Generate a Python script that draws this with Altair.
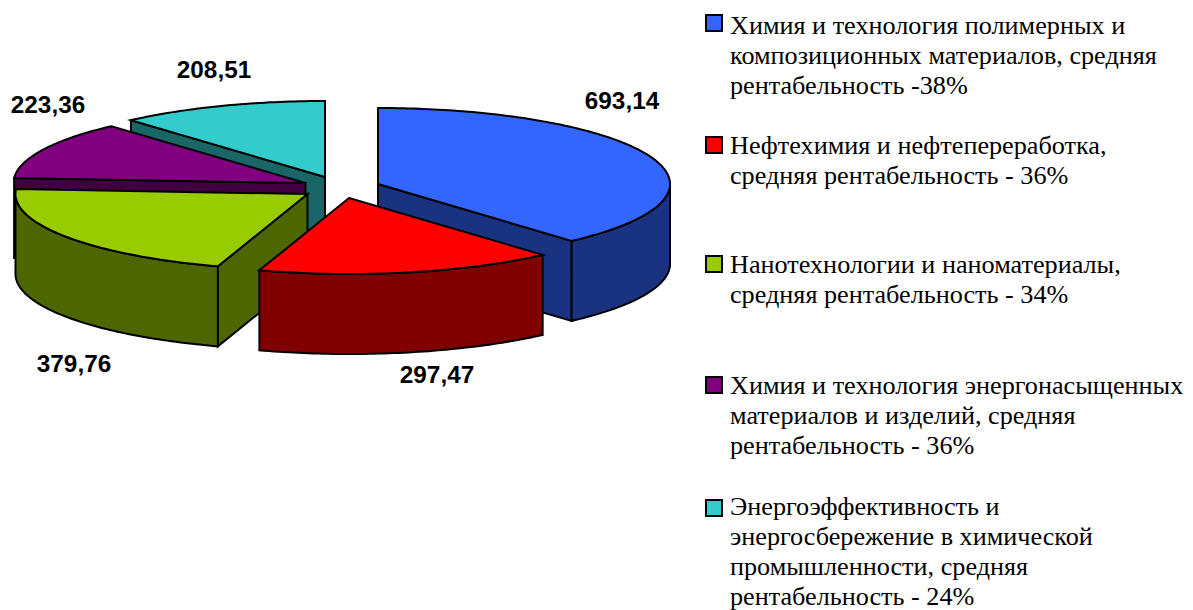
import math
import altair as alt
import pandas as pd

# ---- data ----
values = [693.14, 297.47, 379.76, 223.36, 208.51]
value_labels = ["693,14", "297,47", "379,76", "223,36", "208,51"]
top_colors = ["#3366FF", "#FF0000", "#99CC00", "#800080", "#33CCCC"]
side_colors = ["#1A3380", "#800000", "#4D6600", "#400040", "#1A6666"]
legend_lines = [
    ["Химия и технология полимерных и", "композиционных материалов, средняя", "рентабельность -38%"],
    ["Нефтехимия и нефтепереработка,", "средняя рентабельность - 36%"],
    ["Нанотехнологии и наноматериалы,", "средняя рентабельность - 34%"],
    ["Химия и технология энергонасыщенных", "материалов и изделий, средняя", "рентабельность - 36%"],
    ["Энергоэффективность и", "энергосбережение в химической", "промышленности, средняя", "рентабельность - 24%"],
]

# ---- layout ----
W, H, M = 1193, 610, 8
RX, RY, DEPTH = 292, 76, 80
centers = [(378, 184), (349, 198), (307.5, 194), (305.5, 183), (325, 177)]
# which radial edge of each slice shows its wall to the viewer
visible_edge = [1, None, 0, 0, 0]
label_pos = [(622, 102), (437, 376), (74, 365), (48, 106), (214, 71)]
legend_first_y = [26, 146, 265, 386, 507]
legend_box_y = [23, 145, 264, 385, 508]
LINE_H = 30
paint_order = [4, 3, 2, 0, 1]

total = sum(values)
bounds = [0.0]
for v in values:
    bounds.append(bounds[-1] + 360.0 * v / total)


def pt(c, deg, dz=0):
    a = math.radians(deg)
    return (c[0] + RX * math.sin(a) - M, c[1] - RY * math.cos(a) + dz - M)


def arc(c, a0, a1, dz=0):
    n = max(2, int(abs(a1 - a0) / 1.0) + 1)
    return [pt(c, a0 + (a1 - a0) * i / n, dz) for i in range(n + 1)]


def feat(points, fill):
    ring = [list(p) for p in points]
    ring.append(ring[0])
    return {"type": "Feature", "properties": {"fill": fill},
            "geometry": {"type": "Polygon", "coordinates": [ring]}}


features = []
for i in paint_order:
    c, a0, a1 = centers[i], bounds[i], bounds[i + 1]
    apex = (c[0] - M, c[1] - M)
    apex_low = (apex[0], apex[1] + DEPTH)
    if visible_edge[i] is not None:
        edge = (a0, a1)[visible_edge[i]]
        features.append(feat([apex, pt(c, edge), pt(c, edge, DEPTH), apex_low], side_colors[i]))
    lo, hi = max(a0, 90), min(a1, 270)
    if hi > lo:
        features.append(feat(arc(c, lo, hi) + arc(c, hi, lo, DEPTH), side_colors[i]))
    features.append(feat([apex] + arc(c, a0, a1), top_colors[i]))

BOX = 8
for i, y in enumerate(legend_box_y):
    x = 714 - M
    yy = y - M
    features.append(feat([(x - BOX, yy - BOX), (x + BOX, yy - BOX), (x + BOX, yy + BOX), (x - BOX, yy + BOX)], top_colors[i]))

projection = alt.Projection(type="identity", scale=1, translate=[0, 0])

shapes = alt.Chart(alt.Data(values=features)).mark_geoshape(
    stroke="black", strokeWidth=2, strokeJoin="miter"
).encode(fill=alt.Fill("properties.fill:N", scale=None)).project(**projection.to_dict())

label_df = pd.DataFrame({
    "t": value_labels,
    "lon": [p[0] - M for p in label_pos],
    "lat": [p[1] - M for p in label_pos],
})
labels = alt.Chart(label_df).mark_text(
    font="Liberation Sans", fontWeight="bold", fontSize=24.3, color="black", align="center", baseline="middle"
).encode(longitude="lon:Q", latitude="lat:Q", text="t:N").project(**projection.to_dict())

rows = []
for y0, lines in zip(legend_first_y, legend_lines):
    for j, s in enumerate(lines):
        rows.append({"t": s, "lon": 730 - M, "lat": y0 + j * LINE_H - M})
legend = alt.Chart(pd.DataFrame(rows)).mark_text(
    font="Liberation Serif", fontSize=26.2, color="black", align="left", baseline="middle"
).encode(longitude="lon:Q", latitude="lat:Q", text="t:N").project(**projection.to_dict())

chart = alt.layer(shapes, labels, legend).properties(
    width=W - 2 * M, height=H - M, padding=0, autosize="none", background="white"
).configure_view(stroke=None)

chart.save("out.html", embed_options={"renderer": "svg", "actions": False})
